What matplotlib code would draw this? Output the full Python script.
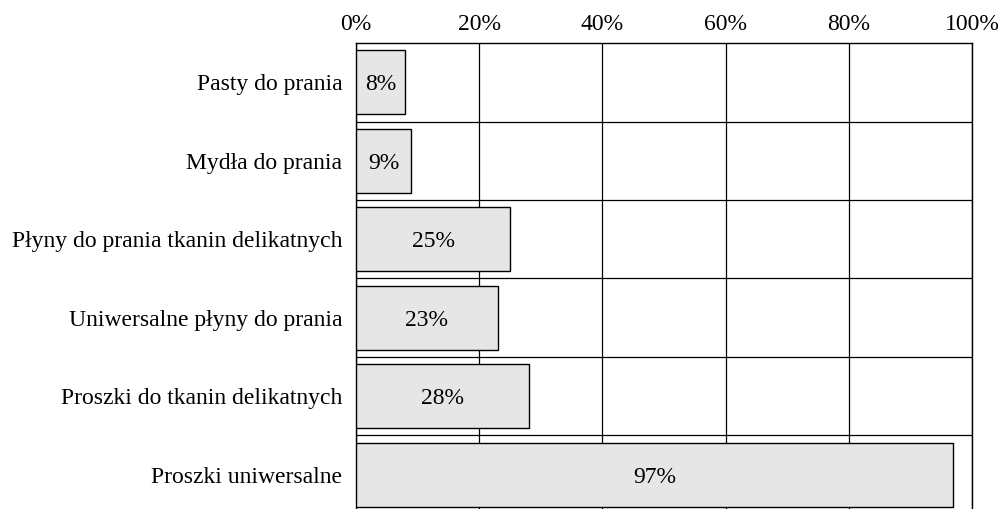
import matplotlib.pyplot as plt
import numpy as np

categories = [
    'Pasty do prania',
    'Mydła do prania',
    'Płyny do prania tkanin delikatnych',
    'Uniwersalne płyny do prania',
    'Proszki do tkanin delikatnych',
    'Proszki uniwersalne',
]
shares = [8, 9, 25, 23, 28, 97]
ticks = [0, 20, 40, 60, 80, 100]

plt.rcParams['font.family'] = ['Liberation Serif', 'DejaVu Serif']
fs = 17

fig = plt.figure(figsize=(10.03, 5.09), dpi=100)
ax = fig.add_axes([0.355, -0.0098, 0.614, 0.9253])

pos = np.arange(len(categories))
ax.barh(pos, shares, height=0.82, color='#e6e6e6', edgecolor='black',
        linewidth=1, zorder=3)
for p, v in zip(pos, shares):
    ax.text(v / 2, p, f'{v}%', ha='center', va='center_baseline', fontsize=fs,
            color='black', zorder=4)

# row separators
for b in np.arange(len(categories) - 1) + 0.5:
    ax.axhline(b, color='black', linewidth=0.9, zorder=1)

ax.set_xlim(0, 100)
ax.set_ylim(len(categories) - 0.5, -0.5)
ax.set_xticks(ticks)
ax.set_xticklabels([f'{t}%' for t in ticks], fontsize=fs)
ax.xaxis.tick_top()
ax.tick_params(axis='x', length=0, pad=6)
ax.set_yticks(pos)
ax.set_yticklabels(categories, fontsize=fs, va='center_baseline')
ax.tick_params(axis='y', length=0, pad=10)
ax.xaxis.grid(True, color='black', linewidth=0.9, zorder=1)
ax.set_axisbelow(True)
for s in ax.spines.values():
    s.set_linewidth(1)
    s.set_color('black')
ax.spines['bottom'].set_visible(False)

fig.savefig('out.png', dpi=100)
